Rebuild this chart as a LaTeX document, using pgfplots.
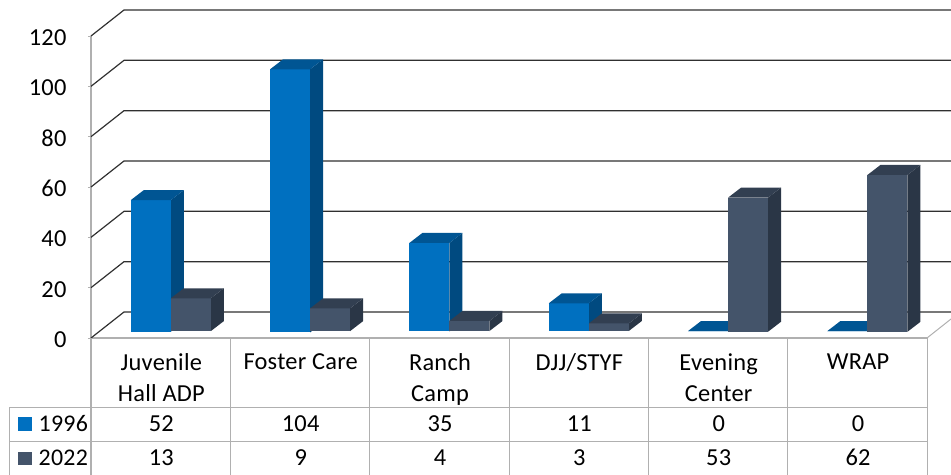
\documentclass[border=0pt]{standalone}
\usepackage{fontspec}
\setmainfont[LetterSpace=1]{Carlito}
\usepackage{pgfplots}
\usepackage{pgfplotstable}
\pgfplotsset{compat=1.18}

\definecolor{blueF}{HTML}{0070C0}
\definecolor{blueS}{HTML}{004A80}
\definecolor{slateF}{HTML}{44546A}
\definecolor{slateS}{HTML}{2A3646}
\definecolor{gridc}{HTML}{303030}
\definecolor{tablec}{HTML}{B0B0B0}

\pgfplotstableread{
idx a1996 a2022
0   52    13
1   104   9
2   35    4
3   11    3
4   0     53
5   0     62
}\spend

% one column with its side and top faces, drawn from the point's value
\pgfplotsset{
  box3d/.style n args={3}{
    only marks, scatter, mark=none, no markers,
    visualization depends on={\thisrow{#1} \as \barv},
    scatter/@pre marker code/.code={
      \pgfmathsetlengthmacro\barh{\barv*2.53bp}
      \begin{scope}
      \path[fill=#3, draw=none] (20bp,7bp-\barh) -- (20bp,7bp) -- (33bp,17bp) -- (33bp,17bp-\barh) -- cycle;
      \path[fill=#2, draw=none] (-20bp,7bp-\barh) -- (20bp,7bp-\barh) -- (20bp,7bp) -- (-20bp,7bp) -- cycle;
      \path[fill=#3!70!#2, draw=none] (-20bp,7bp) -- (20bp,7bp) -- (33bp,17bp) -- (-7bp,17bp) -- cycle;
    },
    scatter/@post marker code/.code={\end{scope}},
  }
}

\newcommand{\tablefont}{\fontsize{24.5}{30}\selectfont}
\tikzset{
  cellA/.style={font=\tablefont, anchor=base, inner sep=0pt, xshift=.7bp, yshift=-93bp},
  cellB/.style={font=\tablefont, anchor=base, inner sep=0pt, xshift=.7bp, yshift=-127bp},
  rowA/.style={font=\fontsize{24}{30}\selectfont, anchor=base west, inner sep=0pt, xshift=-52.5bp, yshift=-93bp},
  rowB/.style={font=\fontsize{24}{30}\selectfont, anchor=base west, inner sep=0pt, xshift=-52.5bp, yshift=-127bp},
}

\begin{document}
\begin{tikzpicture}
\begin{axis}[
  scale only axis, width=836bp, height=302bp,
  xmin=0, xmax=6, ymin=0, ymax=120,
  clip=false,
  separate axis lines,
  axis x line*=bottom, axis y line*=left,
  axis line style={tablec, line width=1.2bp},
  ytick={0,20,...,120},
  ytick style={tablec, line width=.8bp},
  tick align=outside, major tick length=3bp,
  yticklabel style={font=\tablefont, /pgf/number format/assume math mode=true, xshift=-18bp, yshift=-1.5bp},
  xtick={0.5,1.5,2.5,3.5,4.5,5.5},
  xtick style={draw=none},
  xticklabels={{Juvenile\\[1pt]Hall ADP},{Foster Care},{Ranch\\[1pt]Camp},{DJJ/STYF},{Evening\\[1pt]Center},{WRAP}},
  xticklabel style={font=\tablefont, align=center, anchor=north, xshift=.7bp, yshift=-9bp},
]
\path[use as bounding box] (axis cs:0,0) ++(-91bp,-137bp) rectangle ++(951bp,475bp);

% walls
\pgfplotsinvokeforeach{0,20,...,120}{
  \draw[gridc, line width=1.2bp] (axis cs:0,#1) -- ++(33bp,26bp) -- ++(827bp,0bp);
}
\draw[tablec, line width=1bp] (axis cs:6,0) -- ++(24bp,19bp);

% data table grid
\draw[tablec, line width=1bp] (axis cs:0,0) ++(-81bp,-69bp) -- ++(917bp,0bp);
\draw[tablec, line width=1bp] (axis cs:0,0) ++(-81bp,-103bp) -- ++(917bp,0bp);
\draw[tablec, line width=1bp] (axis cs:0,0) ++(-81bp,-69bp) -- ++(0bp,-68bp);
\draw[tablec, line width=1.2bp] (axis cs:0,0) -- ++(0bp,-137bp);
\pgfplotsinvokeforeach{1,...,6}{
  \draw[tablec, line width=1bp] (axis cs:#1,0) -- ++(0bp,-137bp);
}

% bars
\addplot[box3d={a1996}{blueF}{blueS}] table[x expr=\thisrow{idx}+0.429, y=a1996] {\spend};
\addplot[box3d={a2022}{slateF}{slateS}] table[x expr=\thisrow{idx}+0.716, y=a2022] {\spend};

% legend keys and row titles
\fill[blueF] (axis cs:0,0) ++(-72.5bp,-93bp) rectangle ++(13.5bp,14bp);
\fill[slateF] (axis cs:0,0) ++(-72.5bp,-127bp) rectangle ++(13.5bp,13.5bp);
\node[rowA] at (axis cs:0,0) {1996};
\node[rowB] at (axis cs:0,0) {2022};

% table values
\node[cellA] at (axis cs:0.5,0) {52};
\node[cellA] at (axis cs:1.5,0) {104};
\node[cellA] at (axis cs:2.5,0) {35};
\node[cellA] at (axis cs:3.5,0) {11};
\node[cellA] at (axis cs:4.5,0) {0};
\node[cellA] at (axis cs:5.5,0) {0};
\node[cellB] at (axis cs:0.5,0) {13};
\node[cellB] at (axis cs:1.5,0) {9};
\node[cellB] at (axis cs:2.5,0) {4};
\node[cellB] at (axis cs:3.5,0) {3};
\node[cellB] at (axis cs:4.5,0) {53};
\node[cellB] at (axis cs:5.5,0) {62};
\end{axis}
\end{tikzpicture}
\end{document}
